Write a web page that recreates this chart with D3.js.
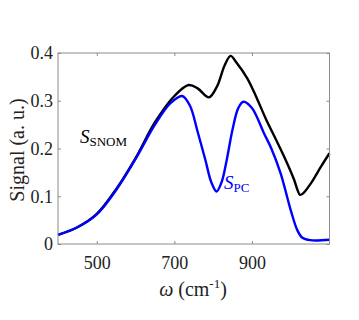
<!DOCTYPE html>
<html><head><meta charset="utf-8">
<script src="https://cdn.jsdelivr.net/npm/d3@7"></script>
<style>body{margin:0;background:#fff}svg{display:block}svg text{font-family:'Liberation Serif','Times New Roman',Times,serif !important}</style>
</head><body><svg id="c" width="359" height="320"></svg>
<script>
const snomW = [400,450,500,550,600,650,700,737,760,789,810,830,845,860,888,910,936,960,987,1009,1018,1024,1032,1052,1078,1100];
const snomV = [0.019,0.035,0.063,0.115,0.18,0.255,0.31,0.333,0.326,0.307,0.33,0.375,0.394,0.38,0.347,0.31,0.262,0.222,0.176,0.134,0.112,0.103,0.106,0.127,0.162,0.19];
const pcW = [400,450,500,550,600,650,690,720,740,760,780,795,809,822,835,850,865,878,900,931,950,974,1000,1017,1030,1050,1100];
const pcV = [0.019,0.035,0.062,0.113,0.178,0.25,0.295,0.31,0.29,0.235,0.176,0.13,0.11,0.13,0.176,0.24,0.285,0.298,0.285,0.232,0.2,0.148,0.071,0.029,0.013,0.008,0.009];
const xTicks = [500,700,900];
const yTicks = [0,0.1,0.2,0.3,0.4];

const svg = d3.select("#c");
const L=58,R=329.5,T=53,B=244;
const x = d3.scaleLinear().domain([400,1100]).range([L,R]);
const y = d3.scaleLinear().domain([0,0.4]).range([B,T]);
const axisCol="#8c8c8c";

const line = d3.line().x(d=>x(d[0])).y(d=>y(d[1])).curve(d3.curveCatmullRom.alpha(0.5));
const g = svg.append("g");
g.append("path").datum(snomW.map((w,i)=>[w,snomV[i]])).attr("d",line).attr("fill","none").attr("stroke","#000").attr("stroke-width",2.4);
g.append("path").datum(pcW.map((w,i)=>[w,pcV[i]])).attr("d",line).attr("fill","none").attr("stroke","#0000ff").attr("stroke-width",2.4);

svg.append("rect").attr("x",L).attr("y",T).attr("width",R-L).attr("height",B-T).attr("fill","none").attr("stroke",axisCol).attr("stroke-width",1);

svg.append("g").attr("transform",`translate(0,${B})`).call(d3.axisBottom(x).tickValues(xTicks).tickSize(-3).tickPadding(12).tickFormat(d3.format("d")));
svg.append("g").attr("transform",`translate(${L},0)`).call(d3.axisLeft(y).tickValues(yTicks).tickSize(-3).tickPadding(5).tickFormat(d=>d===0?"0":d3.format(".1f")(d)));
svg.append("g").attr("transform",`translate(0,${T})`).call(d3.axisTop(x).tickValues(xTicks).tickSize(-3).tickFormat(""));
svg.append("g").attr("transform",`translate(${R},0)`).call(d3.axisRight(y).tickValues(yTicks).tickSize(-3).tickFormat(""));
svg.selectAll(".domain").remove();
svg.selectAll("g").attr("font-family",null);
svg.selectAll(".tick line").attr("stroke",axisCol);
svg.selectAll(".tick text").attr("fill","#222").style("font-size","18px");

svg.append("text").attr("transform","translate(17,150) rotate(-90)").attr("text-anchor","middle").attr("dy","0.35em").style("font-size","20px").attr("fill","#222").text("Signal (a. u.)");
const xl = svg.append("text").attr("x",193).attr("y",296).attr("text-anchor","middle").style("font-size","20px").attr("fill","#222");
xl.append("tspan").style("font-style","italic").text("ω");
xl.append("tspan").text(" (cm");
xl.append("tspan").attr("dy",-8).style("font-size","13px").text("-1");
xl.append("tspan").attr("dy",8).text(")");

const t1 = svg.append("text").attr("x",80).attr("y",143).attr("fill","#000").style("font-size","19px");
t1.append("tspan").style("font-style","italic").text("S");
t1.append("tspan").attr("dy",3).style("font-size","13px").text("SNOM");
const t2 = svg.append("text").attr("x",224).attr("y",189).attr("fill","#0000ff").style("font-size","19px");
t2.append("tspan").style("font-style","italic").text("S");
t2.append("tspan").attr("dy",3).style("font-size","13px").text("PC");
</script></body></html>
